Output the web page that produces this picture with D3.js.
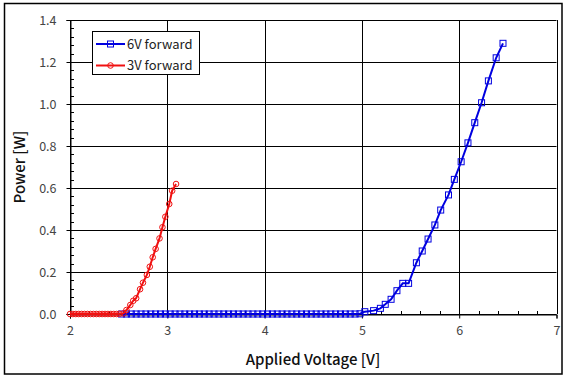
<!DOCTYPE html>
<html><head><meta charset="utf-8">
<script src="https://cdn.jsdelivr.net/npm/d3@7"></script>
<style>
html,body{margin:0;padding:0;background:#fff;}
svg{display:block;}
text{font-family:"Noto Sans CJK KR","Noto Sans",sans-serif;}
</style></head>
<body>
<svg id="chart" width="568" height="380"></svg>
<script>
// ---- data ----
const xTicks = [2, 3, 4, 5, 6, 7];
const yTicks = [0.0, 0.2, 0.4, 0.6, 0.8, 1.0, 1.2, 1.4];
const seriesNames = ["6V forward", "3V forward"];

const voltage6V = [2.53,2.58,2.63,2.68,2.73,2.78,2.83,2.88,2.93,2.98,3.03,3.08,3.13,3.18,3.23,3.28,3.33,3.38,3.43,3.48,
  3.53,3.58,3.63,3.68,3.73,3.78,3.83,3.88,3.93,3.98,4.03,4.08,4.13,4.18,4.23,4.28,4.33,4.38,4.43,4.48,
  4.53,4.58,4.63,4.68,4.73,4.78,4.83,4.88,4.93,4.98,
  5.03,5.12,5.19,5.24,5.30,5.36,5.42,5.48,5.56,5.62,5.68,5.75,5.81,5.89,5.95,6.02,6.09,6.16,6.23,6.30,6.38,6.45];
const power6V = [0,0,0,0,0,0,0,0,0,0,0,0,0,0,0,0,0,0,0,0,
  0,0,0,0,0,0,0,0,0,0,0,0,0,0,0,0,0,0,0,0,
  0,0,0,0,0,0,0,0,0,0.001,
  0.011,0.016,0.027,0.046,0.070,0.111,0.146,0.146,0.244,0.300,0.357,0.424,0.495,0.567,0.641,0.725,0.815,0.911,1.006,1.110,1.220,1.289];

const voltage3V = [2.00,2.03,2.06,2.09,2.12,2.15,2.18,2.21,2.24,2.27,2.30,2.33,2.36,2.39,2.42,2.45,2.48,2.51,
  2.55,2.58,2.62,2.65,2.68,2.72,2.75,2.79,2.82,2.85,2.88,2.92,2.95,2.98,3.02,3.05,3.09];
const power3V = [0,0,0,0,0,0,0,0,0,0,0,0,0,0,0,0,0,0.001,
  0.003,0.019,0.043,0.063,0.075,0.118,0.149,0.186,0.225,0.270,0.310,0.360,0.413,0.463,0.524,0.587,0.619];

// ---- chart ----
const svg = d3.select("#chart");
const L = 70, R = 556.5, T = 20, B = 314;
const x = d3.scaleLinear().domain([2, 7]).range([L, R]);
const y = d3.scaleLinear().domain([0, 1.4]).range([B, T]);

// outer border
svg.append("rect").attr("x", 4.5).attr("y", 3.5).attr("width", 557.5).attr("height", 370.5)
  .attr("fill", "#fff").attr("stroke", "#000").attr("stroke-width", 1.5);

// gridlines
const g = svg.append("g");
g.selectAll("line.gy").data(yTicks).join("line")
  .attr("x1", L).attr("x2", R).attr("y1", d => Math.round(y(d)) + 0.5).attr("y2", d => Math.round(y(d)) + 0.5)
  .attr("stroke", "#000").attr("stroke-width", 1);
g.selectAll("line.gx").data(xTicks).join("line")
  .attr("y1", T).attr("y2", B).attr("x1", d => Math.round(x(d)) + 0.5).attr("x2", d => Math.round(x(d)) + 0.5)
  .attr("stroke", "#000").attr("stroke-width", 1);

// axes
const xAxis = d3.axisBottom(x).tickValues(xTicks).tickFormat(d3.format("d")).tickSize(4).tickPadding(8);
const xa = svg.append("g").attr("transform", `translate(0,${Math.round(B) + 0.5})`).call(xAxis);
const yAxis = d3.axisLeft(y).tickValues(yTicks).tickFormat(d3.format(".1f")).tickSize(4).tickPadding(10);
const ya = svg.append("g").attr("transform", `translate(${Math.round(L) + 0.5},0)`).call(yAxis);
[xa, ya].forEach(a => {
  a.select(".domain").attr("stroke", "#000");
  a.selectAll(".tick line").attr("stroke", "#000");
  a.selectAll(".tick text").attr("fill", "#444").style("font-size", "12.5px").style("font-family", '"Noto Sans CJK KR","Noto Sans",sans-serif');
});
// minor ticks
const xMinor = d3.range(2, 7.001, 0.2).filter(v => Math.abs(v - Math.round(v)) > 1e-6);
const yMinor = d3.range(0, 1.4001, 0.04).filter(v => Math.abs(v / 0.2 - Math.round(v / 0.2)) > 1e-6);
svg.append("g").selectAll("line").data(xMinor).join("line")
  .attr("x1", d => Math.round(x(d)) + 0.5).attr("x2", d => Math.round(x(d)) + 0.5)
  .attr("y1", Math.round(B) + 0.5).attr("y2", Math.round(B) - 3)
  .attr("stroke", "#000");
svg.append("g").selectAll("line").data(yMinor).join("line")
  .attr("y1", d => Math.round(y(d)) + 0.5).attr("y2", d => Math.round(y(d)) + 0.5)
  .attr("x1", Math.round(L) + 0.5).attr("x2", Math.round(L) + 4)
  .attr("stroke", "#000");

// axis titles
svg.append("text").attr("x", 313).attr("y", 365).attr("text-anchor", "middle")
  .style("font-size", "15px").style("font-weight", "500").attr("fill", "#111").text("Applied Voltage [V]");
svg.append("text").attr("transform", "translate(25,167) rotate(-90)").attr("text-anchor", "middle")
  .style("font-size", "15px").style("font-weight", "500").attr("fill", "#111").text("Power [W]");

// series
const line = d3.line().x(d => x(d[0])).y(d => y(d[1]));
const d6 = voltage6V.map((v, i) => [v, power6V[i]]);
const d3v = voltage3V.map((v, i) => [v, power3V[i]]);
const blue = "#0000e0", red = "#f01010";

svg.append("path").datum(d6).attr("d", line).attr("fill", "none").attr("stroke", blue).attr("stroke-width", 2);
svg.append("g").selectAll("rect").data(d6).join("rect")
  .attr("x", d => x(d[0]) - 3).attr("y", d => y(d[1]) - 3).attr("width", 6).attr("height", 6)
  .attr("fill", "none").attr("stroke", blue).attr("stroke-width", 1);

svg.append("path").datum(d3v).attr("d", line).attr("fill", "none").attr("stroke", red).attr("stroke-width", 2);
svg.append("g").selectAll("circle").data(d3v).join("circle")
  .attr("cx", d => x(d[0])).attr("cy", d => y(d[1])).attr("r", 2.8)
  .attr("fill", "none").attr("stroke", red).attr("stroke-width", 1);

// legend
const lg = svg.append("g");
lg.append("rect").attr("x", 92.5).attr("y", 31.5).attr("width", 107).attr("height", 43)
  .attr("fill", "#fff").attr("stroke", "#000").attr("stroke-width", 1);
const cols = [blue, red];
seriesNames.forEach((nm, i) => {
  const yy = 44 + i * 21.5;
  lg.append("line").attr("x1", 96).attr("x2", 125).attr("y1", yy).attr("y2", yy).attr("stroke", cols[i]).attr("stroke-width", 2);
  if (i === 0) lg.append("rect").attr("x", 107.5).attr("y", yy - 3).attr("width", 6).attr("height", 6).attr("fill", "none").attr("stroke", blue);
  else lg.append("circle").attr("cx", 110.5).attr("cy", yy).attr("r", 2.8).attr("fill", "none").attr("stroke", red);
  lg.append("text").attr("x", 127).attr("y", yy + 4.5).style("font-size", "13px").attr("fill", "#222").text(nm);
});
</script>
</body></html>
